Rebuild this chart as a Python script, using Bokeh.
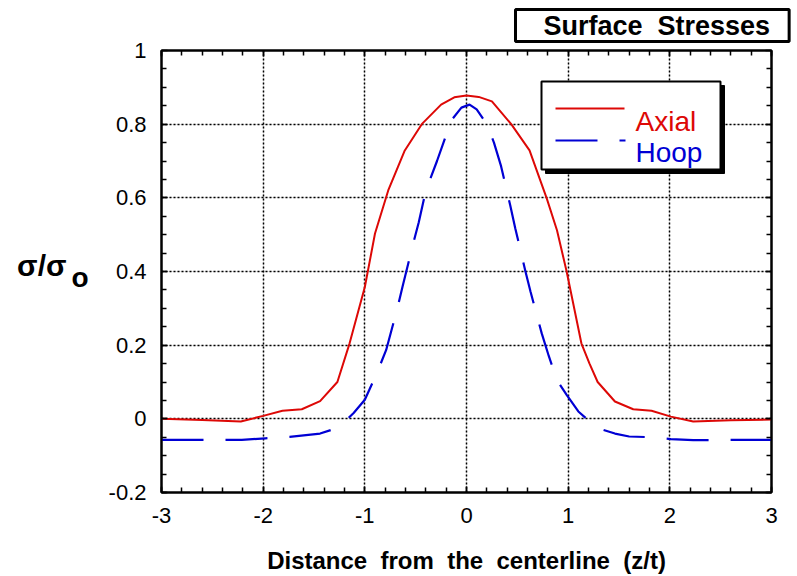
from bokeh.plotting import figure
from bokeh.models import (Range1d, FixedTicker, LinearAxis, Label, BoxAnnotation,
                          Arrow, Grid, Title)
from bokeh.embed import file_html
from bokeh.resources import INLINE

# ---------------- data ----------------
z_axial = [-3.0, -2.6, -2.22, -2.0, -1.81, -1.62, -1.44, -1.27, -1.15, -1.0, -0.9,
           -0.77, -0.61, -0.44, -0.25, -0.12, 0.0, 0.12, 0.25, 0.44, 0.62, 0.79,
           0.89, 0.985, 1.13, 1.21, 1.29, 1.46, 1.64, 1.82, 2.01, 2.23, 2.6, 3.0]
axial = [0.0, -0.003, -0.007, 0.008, 0.022, 0.026, 0.048, 0.10, 0.205, 0.358, 0.503,
         0.62, 0.727, 0.80, 0.853, 0.873, 0.878, 0.874, 0.862, 0.80, 0.729, 0.598,
         0.512, 0.40, 0.205, 0.15, 0.10, 0.047, 0.026, 0.022, 0.006, -0.007, -0.004, -0.002]

z_hoop = [-3.0, -2.6, -2.21, -1.98, -1.74, -1.44, -1.33, -1.2, -1.11, -1.0, -0.88,
          -0.79, -0.68, -0.63, -0.53, -0.47, -0.40, -0.29, -0.15, -0.05, 0.03, 0.10,
          0.20, 0.27, 0.34, 0.43, 0.48, 0.58, 0.63, 0.74, 0.81, 0.89, 0.985, 1.1,
          1.19, 1.29, 1.46, 1.60, 1.82, 2.01, 2.23, 2.6, 3.0]
hoop = [-0.057, -0.057, -0.057, -0.053, -0.049, -0.04, -0.03, -0.008, 0.016, 0.052, 0.125,
        0.187, 0.30, 0.358, 0.47, 0.533, 0.62, 0.70, 0.81, 0.845, 0.853, 0.84,
        0.80, 0.75, 0.686, 0.58, 0.517, 0.40, 0.345, 0.232, 0.17, 0.105, 0.065, 0.02,
        -0.002, -0.025, -0.04, -0.048, -0.05, -0.055, -0.058, -0.057, -0.057]

x_ticks = [-3, -2, -1, 0, 1, 2, 3]
x_tick_labels = ["-3", "-2", "-1", "0", "1", "2", "3"]
y_ticks = [-0.2, 0, 0.2, 0.4, 0.6, 0.8, 1]
y_tick_labels = ["-0.2", "0", "0.2", "0.4", "0.6", "0.8", "1"]
x_minor = [-3 + 0.2 * i for i in range(31)]
y_minor = [-0.2 + 0.05 * i for i in range(25)]

series_names = ["Axial", "Hoop"]
series_colors = ["#dd0806", "#0000d4"]
NB = "\u00a0 "   # a widened word gap (non-collapsing)
title_text = "Surface" + NB + "Stresses"
x_title = NB.join(["Distance", "from", "the", "centerline", "(z/t)"])
y_title_main = "σ/σ"
y_title_sub = "o"

FONT = "Liberation Sans"

# ---------------- figure ----------------
p = figure(width=797, height=576, output_backend="svg", toolbar_location=None,
           x_range=Range1d(-3, 3), y_range=Range1d(-0.2, 1),
           x_axis_location=None, y_axis_location=None,
           min_border_left=161, min_border_right=26, min_border_top=50,
           min_border_bottom=83)
p.outline_line_color = "black"
p.outline_line_width = 2
p.background_fill_color = "white"
p.border_fill_color = "white"


def make_axis(ticks, minor, labels, show_labels):
    axis = LinearAxis()
    axis.ticker = FixedTicker(ticks=ticks, minor_ticks=minor)
    axis.axis_line_width = 2
    axis.axis_line_color = "black"
    axis.major_tick_in = 6
    axis.major_tick_out = 0
    axis.minor_tick_in = 5
    axis.minor_tick_out = 0
    axis.major_tick_line_width = 1.5
    axis.minor_tick_line_width = 1.5
    axis.major_label_text_font = FONT
    axis.major_label_text_color = "black"
    axis.major_label_text_font_size = "22px"
    if show_labels:
        axis.major_label_overrides = {t: l for t, l in zip(ticks, labels)}
    else:
        axis.major_label_overrides = {t: "" for t in ticks}
        axis.major_label_standoff = 0
    return axis


def label_axis(text, at, size, standoff):
    # an axis with no line or ticks whose single label is the y title piece
    axis = LinearAxis(ticker=FixedTicker(ticks=[at]))
    axis.major_label_overrides = {at: text}
    axis.axis_line_color = None
    axis.major_tick_line_color = None
    axis.minor_tick_line_color = None
    axis.major_tick_in = 0
    axis.major_tick_out = 0
    axis.minor_tick_in = 0
    axis.minor_tick_out = 0
    axis.major_label_standoff = standoff
    axis.major_label_text_font = FONT
    axis.major_label_text_font_size = size
    axis.major_label_text_font_style = "bold"
    axis.major_label_text_color = "black"
    return axis


bottom = make_axis(x_ticks, x_minor, x_tick_labels, True)
bottom.major_label_standoff = 15
bottom.axis_label = x_title
bottom.axis_label_text_font = FONT
bottom.axis_label_text_font_size = "24px"
bottom.axis_label_text_font_style = "bold"
bottom.axis_label_text_color = "black"
bottom.axis_label_standoff = 21
left = make_axis(y_ticks, y_minor, y_tick_labels, True)
left.major_label_standoff = 15
top = make_axis(x_ticks, x_minor, x_tick_labels, False)
right = make_axis(y_ticks, y_minor, y_tick_labels, False)
p.add_layout(bottom, "below")
p.add_layout(left, "left")
p.add_layout(label_axis(y_title_sub, 0.383, "28px", 17), "left")
p.add_layout(label_axis(y_title_main, 0.416, "30px", 2), "left")
p.add_layout(top, "above")
p.add_layout(right, "right")

for dim, tk in ((0, x_ticks), (1, y_ticks)):
    g = Grid(dimension=dim, ticker=FixedTicker(ticks=tk))
    g.grid_line_color = "black"
    g.grid_line_width = 1.5
    g.grid_line_dash = "2 2"
    p.add_layout(g)

# ---------------- title ----------------
t = Title(text=title_text, align="left", offset=354, vertical_align="top",
          text_font=FONT, text_font_size="27px", text_font_style="bold",
          text_color="black", border_line_color="black", border_line_width=3,
          background_fill_color="white",
          padding=dict(left=28, right=19, top=1, bottom=1), standoff=14)
p.add_layout(t, "above")

# ---------------- data lines ----------------
p.line(z_axial, axial, line_color=series_colors[0], line_width=2)
p.line(z_hoop, hoop, line_color=series_colors[1], line_width=2.2, line_dash="42 22")

# ---------------- legend (drawn, with shadow) ----------------
box_kw = dict(left_units="screen", right_units="screen", top_units="screen",
              bottom_units="screen", level="overlay")
p.add_layout(BoxAnnotation(left=384, right=563, top=407, bottom=319,
                           fill_color="black", fill_alpha=1, line_color="black",
                           line_alpha=1, **box_kw))
p.add_layout(BoxAnnotation(left=380, right=559, top=411, bottom=323,
                           fill_color="white", fill_alpha=1, line_color="black",
                           line_alpha=1, line_width=2, **box_kw))
p.add_layout(Arrow(x_start=394, x_end=463, y_start=384, y_end=384,
                   start_units="screen", end_units="screen", end=None,
                   line_color=series_colors[0], line_width=2, level="overlay"))
p.add_layout(Arrow(x_start=394, x_end=464, y_start=352, y_end=352,
                   start_units="screen", end_units="screen", end=None,
                   line_color=series_colors[1], line_width=2.2, line_dash="42 22",
                   level="overlay"))
p.add_layout(Label(x=474, y=371, x_units="screen", y_units="screen",
                   text=series_names[0], text_color=series_colors[0],
                   text_font=FONT, text_font_size="28px", text_baseline="alphabetic",
                   level="overlay"))
p.add_layout(Label(x=474, y=340, x_units="screen", y_units="screen",
                   text=series_names[1], text_color=series_colors[1],
                   text_font=FONT, text_font_size="28px", text_baseline="alphabetic",
                   level="overlay"))

open("out.html", "w").write(file_html(p, INLINE))
